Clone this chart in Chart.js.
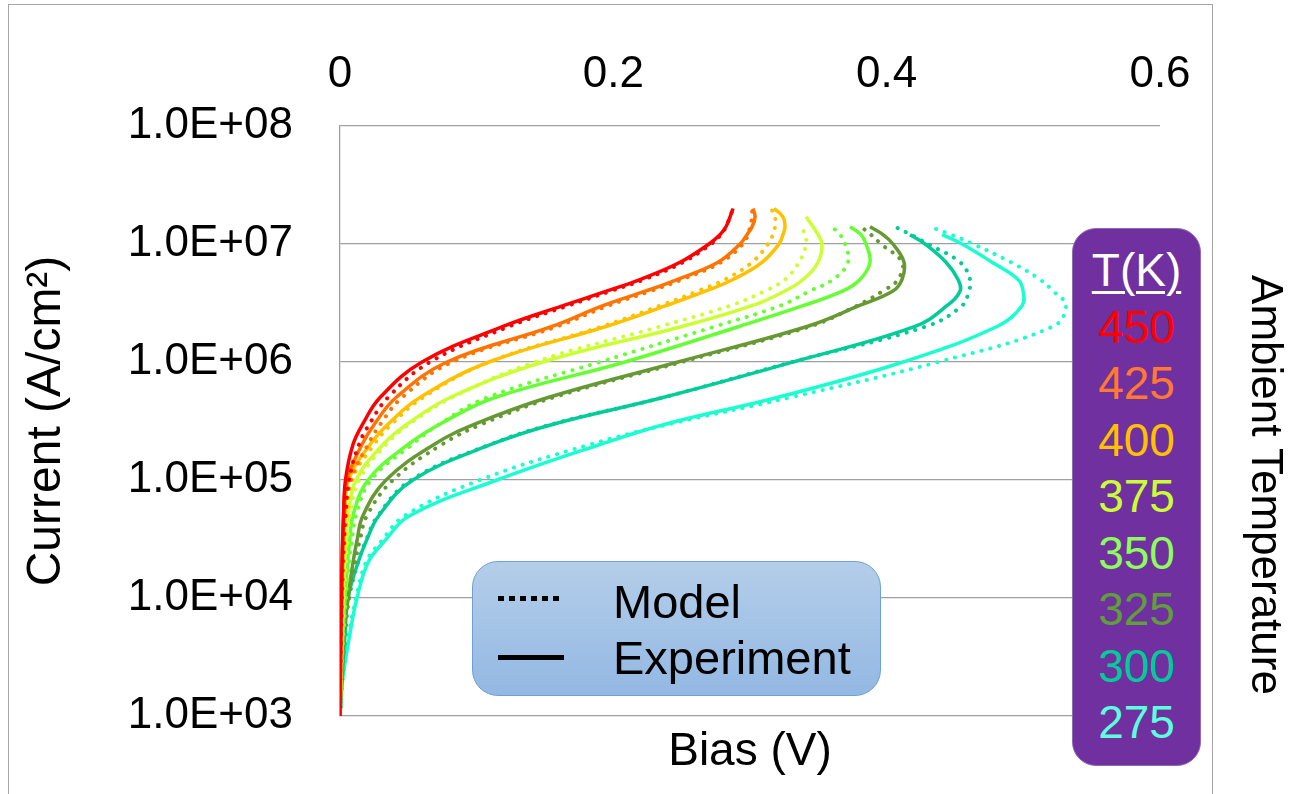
<!DOCTYPE html>
<html>
<head>
<meta charset="utf-8">
<script src="https://cdn.jsdelivr.net/npm/chart.js@4.4.0/dist/chart.umd.min.js"></script>
<style>
  html, body { margin: 0; padding: 0; background: #fff; }
  body {
    width: 1291px; height: 794px; position: relative; overflow: hidden;
    font-family: "Liberation Sans", Arial, sans-serif;
  }
  #frame {
    position: absolute; left: 8px; top: 4px; width: 1205px; height: 830px;
    border: 1.5px solid #a6a6a6; box-sizing: border-box;
  }
  #chart { position: absolute; left: 0; top: 0; }
  #keyBox {
    position: absolute; left: 472px; top: 561px; width: 409px; height: 135px;
    box-sizing: border-box; border-radius: 26px; border: 1.5px solid #6e9fd6;
    background: linear-gradient(#b4cee9, #93b8e3);
  }
  .sample { position: absolute; left: 25px; width: 66px; height: 5px; }
  #dotSample { top: 34px; background: repeating-linear-gradient(90deg, #000 0 6px, transparent 6px 11px); }
  #lineSample { top: 93px; background: #000; }
  .keyText { position: absolute; left: 140px; font-size: 47px; line-height: 46px; color: #000; }
  #tempBox {
    position: absolute; left: 1072px; top: 228px; width: 129px; height: 538px;
    box-sizing: border-box; border-radius: 24px; border: 1px solid #8e6cb0;
    background: #7030a0; padding-top: 13px; text-align: center;
  }
  #tempBox div { font-size: 46px; line-height: 56.5px; }
  #tempBox .head {
    color: #fff; text-decoration: underline; text-decoration-thickness: 3px;
    text-underline-offset: 5px;
  }
  #ambient {
    position: absolute; left: 1242px; top: 485px; transform: translateY(-50%);
    writing-mode: vertical-rl; font-size: 44px; line-height: 50px; color: #000;
    white-space: nowrap;
  }
</style>
</head>
<body>
<div id="frame"></div>
<canvas id="chart" width="1291" height="794"></canvas>
<div id="keyBox">
  <div class="sample" id="dotSample"></div>
  <div class="sample" id="lineSample"></div>
  <div class="keyText" style="top:17px">Model</div>
  <div class="keyText" style="top:73px">Experiment</div>
</div>
<div id="tempBox"></div>
<div id="ambient">Ambient Temperature</div>
<script>
// current density levels (A/cm2); each bias array below pairs index-by-index with these
const currentLevels = [1e3, 2e3, 5e3, 1e4, 2e4, 3e4, 5e4, 1e5, 2e5, 3e5, 5e5, 1e6, 2e6, 3e6, 4e6, 5e6, 7e6, 1e7, 1.2e7, 1.4e7, 1.7e7, 2e7];

const temps = [450, 425, 400, 375, 350, 325, 300, 275];
const lineColors = ["#ff0000", "#ff7400", "#ffc000", "#ccff33", "#66ff33", "#669933", "#00cc99", "#19ffd1"];
const labelColors = ["#ff0000", "#ff7a30", "#ffc000", "#ccff33", "#8cff5a", "#5f9e3b", "#00cc99", "#5cffdd"];

const yTicks = [1e3, 1e4, 1e5, 1e6, 1e7, 1e8];

// bias (V), experiment
const exp450 = [0, 0.0002, 0.0006, 0.0010, 0.0015, 0.0019, 0.0026, 0.0040, 0.0095, 0.0168, 0.0293, 0.0600, 0.1193, 0.1632, 0.1954, 0.2195, 0.2488, 0.2700, 0.2780, 0.2824, 0.2854, 0.2876];
const exp425 = [0, 0.0003, 0.0007, 0.0012, 0.0017, 0.0020, 0.0026, 0.0051, 0.0161, 0.0254, 0.0410, 0.0783, 0.1551, 0.1924, 0.2239, 0.2466, 0.2766, 0.2927, 0.2978, 0.3015, 0.3037, 0.3022];
const exp400 = [0, 0.0004, 0.0010, 0.0015, 0.0022, 0.0028, 0.0037, 0.0062, 0.0220, 0.0355, 0.0585, 0.1090, 0.1946, 0.2385, 0.2678, 0.2876, 0.3088, 0.3212, 0.3241, 0.3256, 0.3241, 0.3176];
const exp375 = [0, 0.0005, 0.0015, 0.0022, 0.0033, 0.0042, 0.0059, 0.0117, 0.0315, 0.0495, 0.0805, 0.1485, 0.2502, 0.3015, 0.3256, 0.3388, 0.3498, 0.3527, 0.3498, 0.3461, 0.3410];
const exp350 = [0, 0.0007, 0.0022, 0.0037, 0.0055, 0.0070, 0.0095, 0.0205, 0.0498, 0.0736, 0.1134, 0.2085, 0.2920, 0.3388, 0.3680, 0.3805, 0.3878, 0.3849, 0.3812, 0.3732];
const exp325 = [0, 0.0011, 0.0029, 0.0059, 0.0095, 0.0123, 0.0168, 0.0337, 0.0688, 0.0995, 0.1522, 0.2473, 0.3417, 0.3798, 0.4046, 0.4112, 0.4127, 0.4046, 0.3973, 0.3878];
const exp300 = [0, 0.0015, 0.0037, 0.0059, 0.0132, 0.0190, 0.0285, 0.0534, 0.1105, 0.1573, 0.2363, 0.3315, 0.4207, 0.4441, 0.4537, 0.4522, 0.4434, 0.4281, 0.4171];
const exp275 = [0, 0.0018, 0.0073, 0.0124, 0.0205, 0.0322, 0.0512, 0.1149, 0.1902, 0.2393, 0.3198, 0.4120, 0.4807, 0.4990, 0.4998, 0.4961, 0.4771, 0.4551, 0.4405];

// bias (V), model
const model450 = [0, 0.0002, 0.0007, 0.0013, 0.0020, 0.0028, 0.0040, 0.0066, 0.0139, 0.0217, 0.0351, 0.0659, 0.1237, 0.1668, 0.1983, 0.2224, 0.2510, 0.2715, 0.2788, 0.2824, 0.2854, 0.2876];
const model425 = [0, 0.0003, 0.0009, 0.0015, 0.0022, 0.0029, 0.0040, 0.0080, 0.0205, 0.0298, 0.0454, 0.0820, 0.1588, 0.1961, 0.2276, 0.2502, 0.2788, 0.2949, 0.2985, 0.3000, 0.3015, 0.3015];
const model400 = [0, 0.0004, 0.0011, 0.0018, 0.0029, 0.0037, 0.0051, 0.0088, 0.0249, 0.0381, 0.0607, 0.1090, 0.1917, 0.2341, 0.2620, 0.2817, 0.3015, 0.3132, 0.3168, 0.3183, 0.3183, 0.3154];
const model375 = [0, 0.0007, 0.0018, 0.0029, 0.0044, 0.0055, 0.0073, 0.0139, 0.0337, 0.0512, 0.0820, 0.1427, 0.2341, 0.2854, 0.3110, 0.3256, 0.3359, 0.3410, 0.3402, 0.3373];
const model350 = [0, 0.0007, 0.0026, 0.0044, 0.0066, 0.0086, 0.0117, 0.0227, 0.0527, 0.0732, 0.1076, 0.1902, 0.2744, 0.3220, 0.3439, 0.3607, 0.3717, 0.3695, 0.3659, 0.3600];
const model325 = [0, 0.0011, 0.0033, 0.0066, 0.0110, 0.0143, 0.0198, 0.0388, 0.0746, 0.1046, 0.1559, 0.2502, 0.3439, 0.3783, 0.3973, 0.4083, 0.4112, 0.3959, 0.3885, 0.3812];
const model300 = [0, 0.0015, 0.0040, 0.0066, 0.0132, 0.0187, 0.0278, 0.0520, 0.1098, 0.1566, 0.2363, 0.3307, 0.4288, 0.4551, 0.4602, 0.4610, 0.4537, 0.4302, 0.4178, 0.4061];
const model275 = [0, 0.0018, 0.0066, 0.0117, 0.0190, 0.0299, 0.0476, 0.1024, 0.1829, 0.2422, 0.3293, 0.4376, 0.5217, 0.5312, 0.5217, 0.5122, 0.4910, 0.4632, 0.4471, 0.4317];

const expSeries = [exp450, exp425, exp400, exp375, exp350, exp325, exp300, exp275];
const modelSeries = [model450, model425, model400, model375, model350, model325, model300, model275];

const FONT = "'Liberation Sans', Arial, sans-serif";

function toPoints(bias) {
  return bias.map((v, i) => ({ x: v, y: currentLevels[i] }));
}

function sciLabel(v) {
  const e = Math.round(Math.log10(v));
  return "1.0E+" + String(e).padStart(2, "0");
}

const datasets = [];
temps.forEach((t, i) => {
  datasets.push({
    label: t + " K model",
    data: toPoints(modelSeries[i]),
    borderColor: lineColors[i],
    borderWidth: 4,
    borderDash: [0.1, 9],
    borderCapStyle: "round",
  });
  datasets.push({
    label: t + " K experiment",
    data: toPoints(expSeries[i]),
    borderColor: lineColors[i],
    borderWidth: 3.5,
  });
});
datasets.forEach((d) => {
  d.showLine = true;
  d.pointRadius = 0;
  d.tension = 0.4;
  d.fill = false;
});

new Chart(document.getElementById("chart"), {
  type: "scatter",
  data: { datasets: datasets },
  options: {
    responsive: false,
    animation: false,
    devicePixelRatio: 1,
    layout: { padding: { left: 0, right: 131, top: 0, bottom: 0 } },
    plugins: { legend: { display: false }, tooltip: { enabled: false } },
    scales: {
      x: {
        type: "linear",
        position: "top",
        min: 0,
        max: 0.6,
        ticks: { stepSize: 0.2, color: "#000", padding: 25, font: { size: 44, family: FONT } },
        grid: { display: false, drawTicks: false },
        border: { display: false },
        afterFit: (s) => { s.height = 126; },
      },
      x2: {
        type: "linear",
        position: "bottom",
        min: 0,
        max: 0.6,
        ticks: { display: false },
        grid: { display: false, drawTicks: false },
        border: { display: false },
        title: { display: true, text: "Bias (V)", color: "#000", font: { size: 46, family: FONT }, padding: { top: 0, bottom: 14 } },
        afterFit: (s) => { s.height = 78; },
      },
      y: {
        type: "logarithmic",
        min: 1e3,
        max: 1e8,
        afterBuildTicks: (s) => { s.ticks = yTicks.map((v) => ({ value: v })); },
        ticks: { callback: (v) => sciLabel(v), color: "#000", padding: 47, font: { size: 44, family: FONT } },
        grid: { color: "#a0a0a0", lineWidth: 1.3, drawTicks: false },
        border: { color: "#a0a0a0", width: 1.3 },
        title: { display: true, text: "Current (A/cm²)", color: "#000", font: { size: 48, family: FONT }, padding: { top: 18, bottom: 0 } },
        afterFit: (s) => { s.width = 340; },
      },
    },
  },
});

// temperature key
const tempBox = document.getElementById("tempBox");
const head = document.createElement("div");
head.className = "head";
head.textContent = "T(K)";
tempBox.appendChild(head);
temps.forEach((t, i) => {
  const row = document.createElement("div");
  row.textContent = t;
  row.style.color = labelColors[i];
  tempBox.appendChild(row);
});
</script>
</body>
</html>
